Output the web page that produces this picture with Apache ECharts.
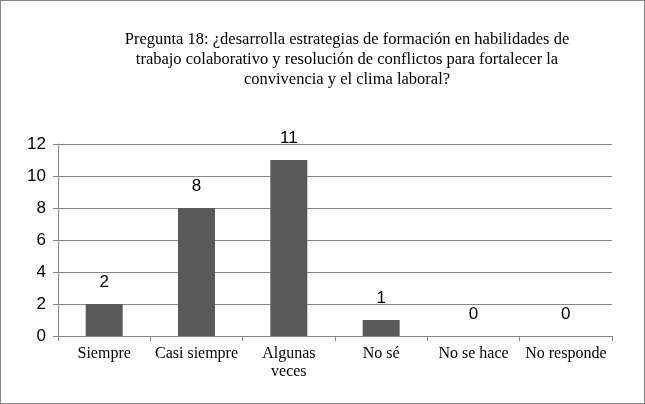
<!DOCTYPE html>
<html><head><meta charset="utf-8">
<script src="https://cdn.jsdelivr.net/npm/echarts@6/dist/echarts.min.js"></script>
<style>html,body{margin:0;padding:0;background:#fff}#c{width:645px;height:404px;box-sizing:border-box;border:1px solid #868686}</style>
</head><body><div id="c"></div>
<script>
const categories = ['Siempre','Casi siempre','Algunas\nveces','No sé','No se hace','No responde'];
const values = [2,8,11,1,0,0];
const yTicks = [0,2,4,6,8,10,12];
const chart = echarts.init(document.getElementById('c'));
chart.setOption({
  animation:false,
  title:{text:'Pregunta 18: ¿desarrolla estrategias de formación en habilidades de\ntrabajo colaborativo y resolución de conflictos para fortalecer la\nconvivencia y el clima laboral?',
    left:341, top:24, textAlign:'center',
    textStyle:{fontFamily:'Liberation Serif',fontSize:16.5,fontWeight:'normal',color:'#000',lineHeight:20}},
  grid:{left:57,right:32,top:143,bottom:67},
  xAxis:{type:'category',data:categories,
    axisLine:{lineStyle:{color:'#868686'}},axisTick:{show:true,lineStyle:{color:'#868686'}},
    axisLabel:{fontFamily:'Liberation Serif',fontSize:16,color:'#000',margin:9,lineHeight:18,interval:0}},
  yAxis:{type:'value',min:yTicks[0],max:yTicks[yTicks.length-1],interval:2,
    axisLine:{show:true,lineStyle:{color:'#868686'}},axisTick:{show:true,lineStyle:{color:'#868686'}},
    splitLine:{lineStyle:{color:'#868686'}},
    axisLabel:{fontFamily:'Liberation Sans',fontSize:17,color:'#000',margin:12}},
  series:[{type:'bar',data:values,barWidth:37,itemStyle:{color:'#595959'},
    label:{show:true,position:'top',distance:13,fontFamily:'Liberation Sans',fontSize:17,color:'#000'}}]
});
</script></body></html>
